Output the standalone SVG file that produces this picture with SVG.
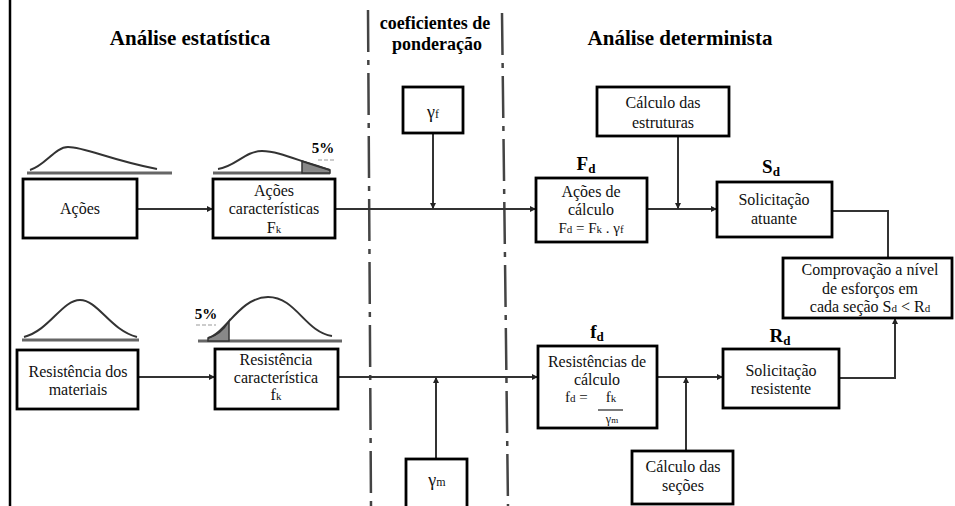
<svg xmlns="http://www.w3.org/2000/svg" width="955" height="506" viewBox="0 0 955 506">
<defs>
<marker id="ah" viewBox="0 0 10 10" refX="10" refY="5" markerWidth="7" markerHeight="6" orient="auto" markerUnits="userSpaceOnUse">
<path d="M0,0 L10,5 L0,10 Z" fill="#222"/>
</marker>
</defs>
<rect width="955" height="506" fill="#fff"/>
<line x1="10" y1="0" x2="10" y2="506" stroke="#000" stroke-width="2.5"/>

<g id="titles">
<text font-family="Liberation Serif, Times New Roman, serif" font-weight="bold" text-anchor="middle" x="190" y="45" font-size="21">Análise estatística</text>
<text font-family="Liberation Serif, Times New Roman, serif" font-weight="bold" text-anchor="middle" x="435" y="29" font-size="18">coeficientes de</text>
<text font-family="Liberation Serif, Times New Roman, serif" font-weight="bold" text-anchor="middle" x="437" y="50" font-size="18">ponderação</text>
<text font-family="Liberation Serif, Times New Roman, serif" font-weight="bold" text-anchor="middle" x="680" y="45" font-size="21">Análise determinista</text>
</g>

<g id="dividers" fill="none" stroke="#444" stroke-width="2.5" stroke-dasharray="42 8 5 8">
<line x1="368" y1="10" x2="371" y2="506"/>
<line x1="502" y1="13" x2="508" y2="506"/>
</g>

<g id="distributions">
<g fill="none" stroke="#666" stroke-width="3">
<line x1="27" y1="173" x2="172" y2="173"/>
<line x1="213" y1="173" x2="330" y2="173"/>
<line x1="22" y1="340" x2="139" y2="340"/>
<line x1="198" y1="341" x2="342" y2="341"/>
</g>
<path d="M302,173 L302,161 Q316,165 330,170 L330,173 Z" fill="#888" stroke="#333" stroke-width="1.5"/>
<path d="M208,341 L208,338 Q221,335 229,321 L229,341 Z" fill="#888" stroke="#333" stroke-width="1.5"/>
<g fill="none" stroke="#333" stroke-width="2">
<path d="M30,170 C45,166 55,147 68,147 C85,147 110,160 157,169"/>
<path d="M218,169 C235,167 245,151 262,151 C280,151 300,162 330,170"/>
<path d="M24,337 C50,330 62,300 80,300 C98,300 110,330 137,337"/>
<path d="M208,338 C225,334 240,297 268,297 C296,297 305,332 332,336"/>
</g>
<text font-family="Liberation Serif, Times New Roman, serif" font-weight="bold" text-anchor="middle" x="323" y="153" font-size="15">5%</text>
<line x1="318" y1="160" x2="335" y2="160" stroke="#999" stroke-width="1" stroke-dasharray="4 2"/>
<text font-family="Liberation Serif, Times New Roman, serif" font-weight="bold" text-anchor="middle" x="206" y="319" font-size="15">5%</text>
<line x1="196" y1="325" x2="216" y2="325" stroke="#999" stroke-width="1" stroke-dasharray="4 2"/>
</g>

<g id="connectors" fill="none" stroke="#333" stroke-width="2">
<line x1="137" y1="209" x2="213" y2="209" marker-end="url(#ah)"/>
<line x1="335" y1="209" x2="536" y2="209" marker-end="url(#ah)"/>
<line x1="433" y1="133" x2="433" y2="209" marker-end="url(#ah)"/>
<line x1="647" y1="209" x2="717" y2="209" marker-end="url(#ah)"/>
<line x1="678" y1="136" x2="678" y2="209" marker-end="url(#ah)"/>
<polyline points="832,211 888,211 888,258"/>
<line x1="138" y1="377" x2="215" y2="377" marker-end="url(#ah)"/>
<line x1="338" y1="377" x2="538" y2="377" marker-end="url(#ah)"/>
<line x1="436" y1="459" x2="436" y2="377" marker-end="url(#ah)"/>
<line x1="657" y1="377" x2="723" y2="377" marker-end="url(#ah)"/>
<line x1="686" y1="451" x2="686" y2="377" marker-end="url(#ah)"/>
<polyline points="839,378 895,378 895,318" marker-end="url(#ah)"/>
</g>

<g id="acoes">
<rect x="23" y="179" width="114" height="59" fill="#fff" stroke="#000" stroke-width="2.8"/>
<text font-family="Liberation Serif, Times New Roman, serif" font-size="16" text-anchor="middle" fill="#111" x="80" y="214">Ações</text>
</g>
<g id="acoes-caracteristicas">
<rect x="213" y="179" width="122" height="59" fill="#fff" stroke="#000" stroke-width="2.8"/>
<text font-family="Liberation Serif, Times New Roman, serif" font-size="16" text-anchor="middle" fill="#111" x="274" y="196">Ações</text>
<text font-family="Liberation Serif, Times New Roman, serif" font-size="16" text-anchor="middle" fill="#111" x="274" y="214">características</text>
<text font-family="Liberation Serif, Times New Roman, serif" font-size="16" text-anchor="middle" fill="#111" x="274" y="233">F<tspan font-size="11">k</tspan></text>
</g>
<g id="gamma-f">
<rect x="403" y="87" width="60" height="46" fill="#fff" stroke="#000" stroke-width="2.8"/>
<text font-family="Liberation Serif, Times New Roman, serif" font-size="18" text-anchor="middle" fill="#111" x="433" y="118">γ<tspan font-size="12">f</tspan></text>
</g>
<g id="acoes-calculo">
<rect x="536" y="178" width="111" height="64" fill="#fff" stroke="#000" stroke-width="2.8"/>
<text font-family="Liberation Serif, Times New Roman, serif" font-weight="bold" text-anchor="middle" x="586" y="170" font-size="19">F<tspan font-size="13" dy="3">d</tspan></text>
<text font-family="Liberation Serif, Times New Roman, serif" font-size="16" text-anchor="middle" fill="#111" x="591" y="197">Ações de</text>
<text font-family="Liberation Serif, Times New Roman, serif" font-size="16" text-anchor="middle" fill="#111" x="591" y="215">cálculo</text>
<text font-family="Liberation Serif, Times New Roman, serif" font-size="15" text-anchor="middle" fill="#111" x="591" y="233">F<tspan font-size="11">d</tspan> = F<tspan font-size="11">k</tspan> . γ<tspan font-size="11">f</tspan></text>
</g>
<g id="calculo-estruturas">
<rect x="597" y="87" width="132" height="49" fill="#fff" stroke="#000" stroke-width="2.8"/>
<text font-family="Liberation Serif, Times New Roman, serif" font-size="16" text-anchor="middle" fill="#111" x="663" y="108">Cálculo das</text>
<text font-family="Liberation Serif, Times New Roman, serif" font-size="16" text-anchor="middle" fill="#111" x="663" y="128">estruturas</text>
</g>
<g id="solicitacao-atuante">
<rect x="717" y="182" width="115" height="55" fill="#fff" stroke="#000" stroke-width="2.8"/>
<text font-family="Liberation Serif, Times New Roman, serif" font-weight="bold" text-anchor="middle" x="771" y="173" font-size="19">S<tspan font-size="13" dy="3">d</tspan></text>
<text font-family="Liberation Serif, Times New Roman, serif" font-size="16" text-anchor="middle" fill="#111" x="774" y="205">Solicitação</text>
<text font-family="Liberation Serif, Times New Roman, serif" font-size="16" text-anchor="middle" fill="#111" x="774" y="224">atuante</text>
</g>
<g id="comprovacao">
<rect x="783" y="258" width="169" height="60" fill="#fff" stroke="#000" stroke-width="2.8"/>
<text font-family="Liberation Serif, Times New Roman, serif" font-size="16" text-anchor="middle" fill="#111" x="870" y="275">Comprovação a nível</text>
<text font-family="Liberation Serif, Times New Roman, serif" font-size="16" text-anchor="middle" fill="#111" x="870" y="294">de esforços em</text>
<text font-family="Liberation Serif, Times New Roman, serif" font-size="16" text-anchor="middle" fill="#111" x="870" y="312">cada seção S<tspan font-size="11">d</tspan> &lt; R<tspan font-size="11">d</tspan></text>
</g>
<g id="resistencia-materiais">
<rect x="17" y="350" width="121" height="59" fill="#fff" stroke="#000" stroke-width="2.8"/>
<text font-family="Liberation Serif, Times New Roman, serif" font-size="16" text-anchor="middle" fill="#111" x="78" y="377">Resistência dos</text>
<text font-family="Liberation Serif, Times New Roman, serif" font-size="16" text-anchor="middle" fill="#111" x="78" y="395">materiais</text>
</g>
<g id="resistencia-caracteristica">
<rect x="215" y="349" width="123" height="60" fill="#fff" stroke="#000" stroke-width="2.8"/>
<text font-family="Liberation Serif, Times New Roman, serif" font-size="16" text-anchor="middle" fill="#111" x="276" y="365">Resistência</text>
<text font-family="Liberation Serif, Times New Roman, serif" font-size="16" text-anchor="middle" fill="#111" x="276" y="383">característica</text>
<text font-family="Liberation Serif, Times New Roman, serif" font-size="16" text-anchor="middle" fill="#111" x="276" y="400">f<tspan font-size="11">k</tspan></text>
</g>
<g id="resistencias-calculo">
<rect x="538" y="346" width="119" height="82" fill="#fff" stroke="#000" stroke-width="2.8"/>
<text font-family="Liberation Serif, Times New Roman, serif" font-weight="bold" text-anchor="middle" x="597" y="338" font-size="19">f<tspan font-size="13" dy="3">d</tspan></text>
<text font-family="Liberation Serif, Times New Roman, serif" font-size="16" text-anchor="middle" fill="#111" x="597" y="367">Resistências de</text>
<text font-family="Liberation Serif, Times New Roman, serif" font-size="16" text-anchor="middle" fill="#111" x="597" y="385">cálculo</text>
<text font-family="Liberation Serif, Times New Roman, serif" font-size="15" fill="#111" x="565" y="402">f<tspan font-size="11">d</tspan> =</text>
<text font-family="Liberation Serif, Times New Roman, serif" font-size="15" text-anchor="middle" fill="#111" x="611" y="402">f<tspan font-size="11">k</tspan></text>
<line x1="598" y1="410" x2="623" y2="410" stroke="#222" stroke-width="1.2"/>
<text font-family="Liberation Serif, Times New Roman, serif" font-size="12" text-anchor="middle" fill="#111" x="612" y="423">γ<tspan font-size="9">m</tspan></text>
</g>
<g id="solicitacao-resistente">
<rect x="723" y="349" width="116" height="59" fill="#fff" stroke="#000" stroke-width="2.8"/>
<text font-family="Liberation Serif, Times New Roman, serif" font-weight="bold" text-anchor="middle" x="780" y="342" font-size="19">R<tspan font-size="13" dy="3">d</tspan></text>
<text font-family="Liberation Serif, Times New Roman, serif" font-size="16" text-anchor="middle" fill="#111" x="781" y="376">Solicitação</text>
<text font-family="Liberation Serif, Times New Roman, serif" font-size="16" text-anchor="middle" fill="#111" x="781" y="394">resistente</text>
</g>
<g id="calculo-secoes">
<rect x="632" y="451" width="101" height="53" fill="#fff" stroke="#000" stroke-width="2.8"/>
<text font-family="Liberation Serif, Times New Roman, serif" font-size="16" text-anchor="middle" fill="#111" x="683" y="472">Cálculo das</text>
<text font-family="Liberation Serif, Times New Roman, serif" font-size="16" text-anchor="middle" fill="#111" x="683" y="491">seções</text>
</g>
<g id="gamma-m">
<rect x="406" y="459" width="61" height="52" fill="#fff" stroke="#000" stroke-width="2.8"/>
<text font-family="Liberation Serif, Times New Roman, serif" font-size="18" text-anchor="middle" fill="#111" x="437" y="486">γ<tspan font-size="12">m</tspan></text>
</g>
</svg>
